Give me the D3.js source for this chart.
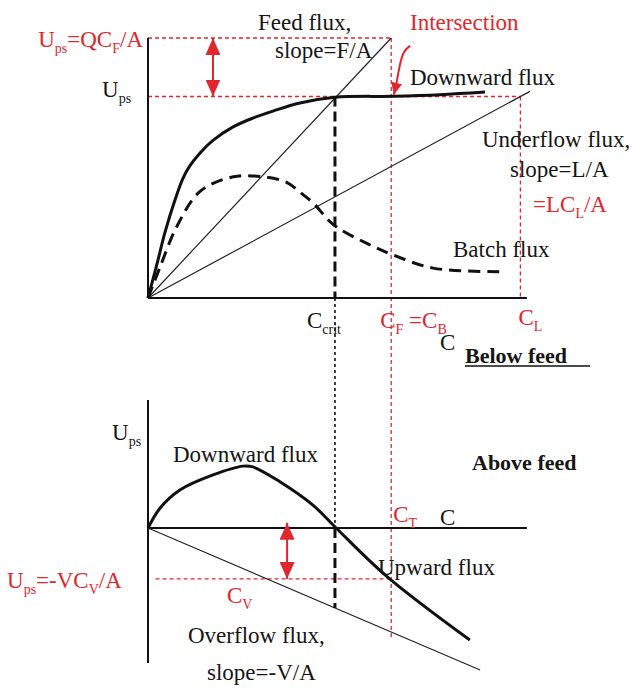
<!DOCTYPE html>
<html>
<head>
<meta charset="utf-8">
<script src="https://cdn.jsdelivr.net/npm/d3@7"></script>
<style>
  html, body { margin: 0; padding: 0; background: #fff; }
  svg { display: block; }
  text { font-family: "Liberation Serif", "Times New Roman", serif; font-size: 23px; fill: #151515; }
  .red { fill: #e0262e; }
  .bold { font-weight: bold; font-size: 22px; }
</style>
</head>
<body>
<svg id="chart" width="632" height="688"></svg>
<script>
// Solids flux construction for a thickener: below-feed (top) and above-feed (bottom) sections.

// Characteristic concentrations (arbitrary units)
const C_CRIT = 4.92;      // limiting concentration
const C_F = 6.4;          // feed concentration (= C_B, = C_T)
const C_L = 9.8;          // underflow concentration
const C_END = 9.97;       // end of the concentration axes

// Flux levels
const FEED_FLUX = 10;     // QC_F/A
const U_PS = 7.75;        // limiting solids flux
const U_PS_LOW = -1.96;   // -VC_V/A in the section above the feed
const LOW_TOP = 4.92, LOW_BOTTOM = -5.19;   // extent of the lower flux axis

// Below feed: total downward flux
const downwardBelow = [
  [0, 0], [0.23, 1.27], [0.45, 2.54], [0.71, 3.77], [0.92, 4.6], [1.1, 5.08],
  [1.37, 5.58], [1.71, 6.06], [2.24, 6.58], [2.76, 6.92], [3.29, 7.19],
  [4.0, 7.5], [4.92, 7.72], [6.45, 7.76], [7.68, 7.82], [8.87, 7.92]
];

// Batch (gravity) settling flux
const batchFlux = [
  [0, 0], [0.32, 1.2], [0.755, 2.74], [1.37, 4.1], [2.245, 4.66], [3.03, 4.66],
  [3.65, 4.45], [4.0, 4.07], [4.35, 3.65], [4.88, 2.82], [5.76, 2.1],
  [6.46, 1.65], [7.5, 1.15], [9.26, 1.01]
];

// Above feed: downward flux turning into upward flux past C_crit
const fluxAbove = [
  [0, 0], [0.32, 0.77], [0.84, 1.46], [1.71, 2.04], [2.5, 2.38], [2.76, 2.35],
  [3.47, 1.78], [4.34, 0.88], [4.95, 0], [6.29, -1.87], [8.47, -4.31]
];

// Straight operating lines
const feedLine = [[0, 0], [C_F, FEED_FLUX]];
const underflowLine = [[0, 0], [10.05, U_PS / C_L * 10.05]];
const overflowSlope = -0.625;
const overflowLine = [[0, 0], [8.74, overflowSlope * 8.74]];

// Pointer from the "Intersection" label to the operating point
const intersectionPointer = [[6.9, 9.7], [6.72, 9.5], [6.62, 8.95], [6.54, 8.25], [6.47, 7.82]];

const svg = d3.select("#chart");
const RED = "#e0262e";

const x = d3.scaleLinear().domain([0, 10]).range([148, 528]);
const yTop = d3.scaleLinear().domain([0, 10]).range([298, 38]);
const yBot = d3.scaleLinear().domain([-5, 5]).range([658, 398]);

const curveTop = d3.line().x(d => x(d[0])).y(d => yTop(d[1])).curve(d3.curveCatmullRom.alpha(0.5));
const curveBot = d3.line().x(d => x(d[0])).y(d => yBot(d[1])).curve(d3.curveCatmullRom.alpha(0.5));
const straightTop = d3.line().x(d => x(d[0])).y(d => yTop(d[1]));
const straightBot = d3.line().x(d => x(d[0])).y(d => yBot(d[1]));

// Arrowheads
const defs = svg.append("defs");
function head(id, w, l) {
  defs.append("marker")
    .attr("id", id)
    .attr("markerUnits", "userSpaceOnUse")
    .attr("viewBox", `0 ${-w / 2} ${l} ${w}`)
    .attr("refX", l).attr("refY", 0)
    .attr("markerWidth", l).attr("markerHeight", w)
    .attr("orient", "auto-start-reverse")
    .append("path")
    .attr("d", `M0,${-w / 2}L${l},0L0,${w / 2}Z`)
    .attr("fill", RED);
}
head("bigHead", 15, 17);
head("smallHead", 11, 12);

function seg(x1, y1, x2, y2, style) {
  const l = svg.append("line").attr("x1", x1).attr("y1", y1).attr("x2", x2).attr("y2", y2);
  Object.entries(style).forEach(([k, v]) => l.attr(k, v));
  return l;
}
const redDash = { stroke: RED, "stroke-width": 1.3, "stroke-dasharray": "4,3" };

// ---------- Red guide lines ----------
seg(x(0), yTop(FEED_FLUX), x(C_F), yTop(FEED_FLUX), redDash);
seg(x(0), yTop(U_PS), x(C_L), yTop(U_PS), redDash);
seg(x(C_L), yTop(U_PS), x(C_L), yTop(0), redDash);
seg(x(C_F), yTop(FEED_FLUX), x(C_F), yBot(-4.2), redDash);
seg(x(0.2), yBot(U_PS_LOW), x(C_F), yBot(U_PS_LOW), redDash);

// ---------- Axes ----------
const axis = { stroke: "#111", "stroke-width": 2 };
seg(x(0), yTop(FEED_FLUX), x(0), yTop(0), axis);
seg(x(0), yTop(0), x(C_END), yTop(0), axis);
seg(x(0), yBot(LOW_TOP), x(0), yBot(LOW_BOTTOM), axis);
seg(x(0), yBot(0), x(C_END), yBot(0), axis);

// ---------- Top section: below feed ----------
svg.append("path").attr("d", straightTop(feedLine))
  .attr("fill", "none").attr("stroke", "#222").attr("stroke-width", 1.2);
svg.append("path").attr("d", straightTop(underflowLine))
  .attr("fill", "none").attr("stroke", "#222").attr("stroke-width", 1.2);
svg.append("path").attr("d", curveTop(batchFlux))
  .attr("fill", "none").attr("stroke", "#111").attr("stroke-width", 3)
  .attr("stroke-dasharray", "12,7");
svg.append("path").attr("d", curveTop(downwardBelow))
  .attr("fill", "none").attr("stroke", "#111").attr("stroke-width", 3);

// C_crit verticals
seg(x(C_CRIT), yTop(U_PS), x(C_CRIT), yTop(0),
  { stroke: "#111", "stroke-width": 3, "stroke-dasharray": "10,5" });
seg(x(C_CRIT), yTop(0), x(C_CRIT), yBot(0),
  { stroke: "#111", "stroke-width": 1.6, "stroke-dasharray": "3,3" });

// ---------- Bottom section: above feed ----------
svg.append("path").attr("d", straightBot(overflowLine))
  .attr("fill", "none").attr("stroke", "#222").attr("stroke-width", 1.2);
svg.append("path").attr("d", curveBot(fluxAbove))
  .attr("fill", "none").attr("stroke", "#111").attr("stroke-width", 3);
seg(x(C_CRIT), yBot(0), x(C_CRIT), yBot(overflowSlope * C_CRIT),
  { stroke: "#111", "stroke-width": 3, "stroke-dasharray": "10,5" });

// ---------- Red arrows ----------
seg(x(1.71), yTop(U_PS), x(1.71), yTop(FEED_FLUX), { stroke: RED, "stroke-width": 2 })
  .attr("marker-start", "url(#bigHead)").attr("marker-end", "url(#bigHead)");
seg(x(3.66), yBot(U_PS_LOW), x(3.66), yBot(0.2), { stroke: RED, "stroke-width": 2 })
  .attr("marker-start", "url(#bigHead)").attr("marker-end", "url(#bigHead)");
svg.append("path")
  .attr("d", d3.line().x(d => x(d[0])).y(d => yTop(d[1])).curve(d3.curveBasis)(intersectionPointer))
  .attr("fill", "none").attr("stroke", RED).attr("stroke-width", 2)
  .attr("marker-end", "url(#smallHead)");

// ---------- Labels ----------
// parts: [text, isSubscript]
function label(px, py, parts, opts = {}) {
  const t = svg.append("text").attr("x", px).attr("y", py)
    .attr("text-anchor", opts.anchor || "start");
  if (opts.cls) t.attr("class", opts.cls);
  let lowered = false;
  parts.forEach(([s, sub]) => {
    const sp = t.append("tspan").text(s);
    if (sub) {
      sp.attr("font-size", 14).attr("dy", lowered ? 0 : 6);
      lowered = true;
    } else {
      sp.attr("dy", lowered ? -6 : 0);
      lowered = false;
    }
  });
  return t;
}

label(143, 47, [["U"], ["ps", 1], ["=QC"], ["F", 1], ["/A"]], { anchor: "end", cls: "red" });
label(102, 97, [["U"], ["ps", 1]]);
label(258, 30, [["Feed flux,"]]);
label(275, 58, [["slope=F/A"]]);
label(410, 30, [["Intersection"]], { cls: "red" });
label(410, 85, [["Downward flux"]]);
label(482, 147, [["Underflow flux,"]]);
label(510, 177, [["slope=L/A"]]);
label(533, 212, [["=LC"], ["L", 1], ["/A"]], { cls: "red" });
label(453, 257, [["Batch flux"]]);

label(x(C_CRIT) - 28, 328, [["C"], ["crit", 1]]);
label(x(C_F) - 11, 328, [["C"], ["F", 1], [" =C"], ["B", 1]], { cls: "red" });
label(440, 350, [["C"]]);
label(x(C_L) - 2, 325, [["C"], ["L", 1]], { cls: "red" });

label(465, 363, [["Below feed"]], { cls: "bold" });
seg(465, 366, 590, 366, { stroke: "#111", "stroke-width": 1.5 });

label(112, 440, [["U"], ["ps", 1]]);
label(173, 462, [["Downward flux"]]);
label(472, 470, [["Above feed"]], { cls: "bold" });
label(x(C_F) + 2, 522, [["C"], ["T", 1]], { cls: "red" });
label(440, 525, [["C"]]);
label(378, 575, [["Upward flux"]]);
label(7, 588, [["U"], ["ps", 1], ["=-VC"], ["V", 1], ["/A"]], { cls: "red" });
label(227, 603, [["C"], ["V", 1]], { cls: "red" });
label(188, 643, [["Overflow flux,"]]);
label(207, 680, [["slope=-V/A"]]);
</script>
</body>
</html>
